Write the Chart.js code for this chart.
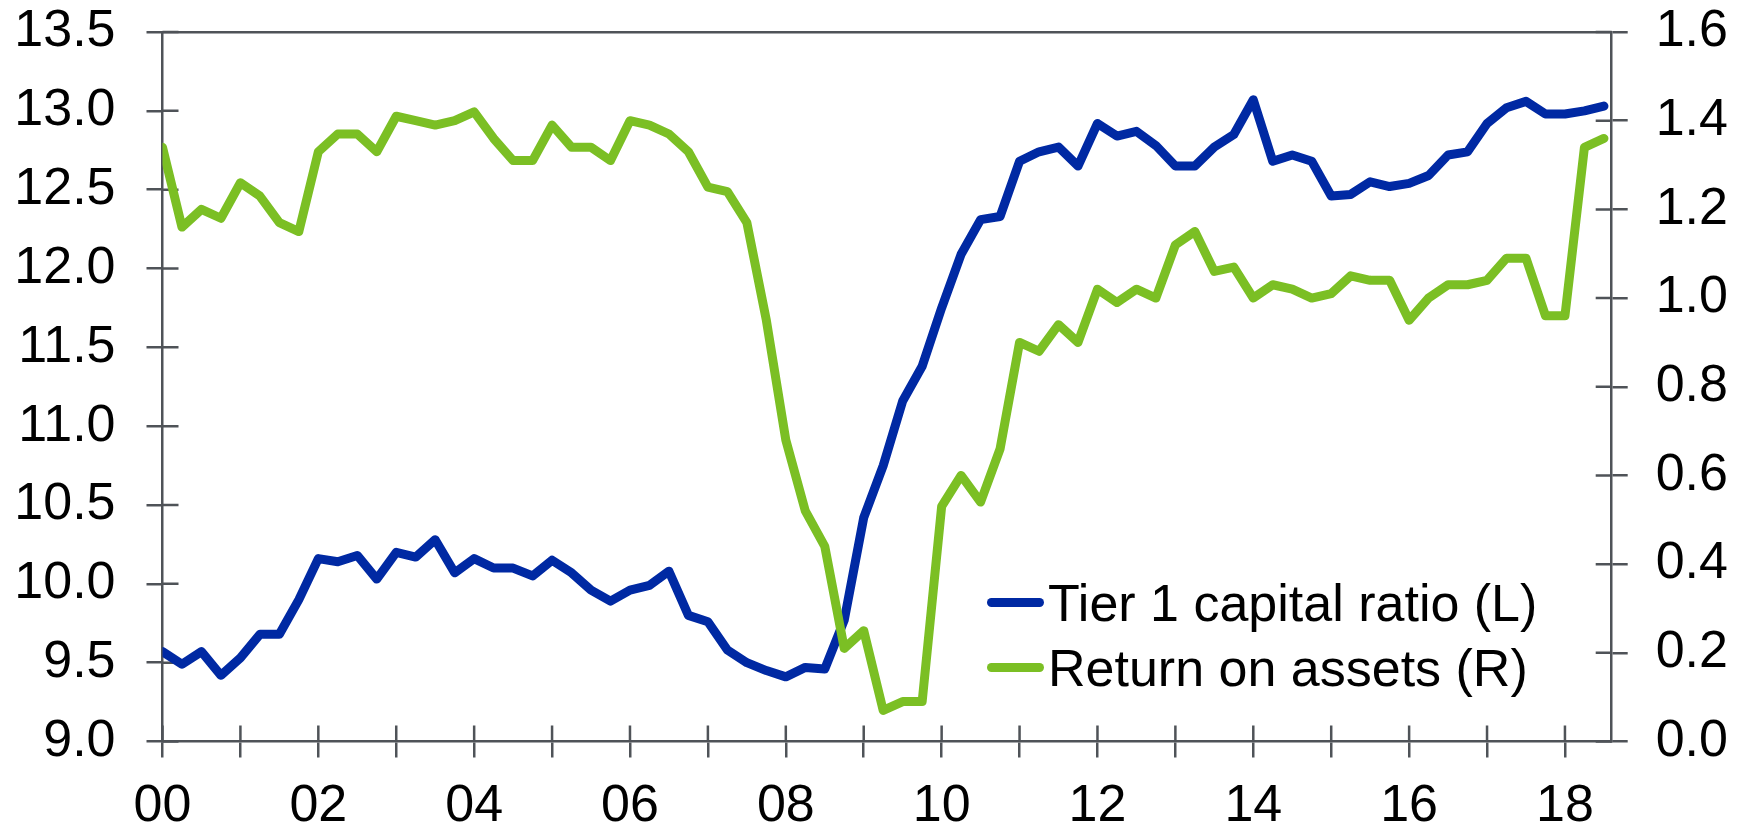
<!DOCTYPE html>
<html><head><meta charset="utf-8">
<script src="https://cdn.jsdelivr.net/npm/chart.js@4"></script>
<style>
html,body{margin:0;padding:0;background:#fff;}
#wrap{position:relative;width:1750px;height:826px;}
canvas{display:block;}
#legend{position:absolute;left:987px;top:570px;font-family:"Liberation Sans",Arial,sans-serif;font-size:52px;color:#000;}
.row{display:flex;align-items:center;height:65px;white-space:nowrap;}
.swatch{width:57px;height:9px;border-radius:4.5px;margin-right:4px;}
</style></head>
<body><div id="wrap"><canvas id="c" width="1750" height="826"></canvas><div id="legend"></div></div>
<script>
// Quarterly periods 2000Q1 .. 2018Q3
const quarters = [];
for (let y = 2000; y <= 2018; y++) for (let q = 1; q <= 4; q++) { if (y === 2018 && q > 3) break; quarters.push(y + 'Q' + q); }

const tier1CapitalRatio = [
  9.57, 9.49, 9.57, 9.42,
  9.53, 9.68, 9.68, 9.90,
  10.16, 10.14, 10.18, 10.03,
  10.20, 10.17, 10.28, 10.07,
  10.16, 10.10, 10.10, 10.05,
  10.15, 10.07, 9.96, 9.89,
  9.96, 9.99, 10.08, 9.80,
  9.76, 9.58, 9.50, 9.45,
  9.41, 9.47, 9.46, 9.77,
  10.42, 10.75, 11.16, 11.38,
  11.75, 12.09, 12.31, 12.33,
  12.68, 12.74, 12.77, 12.65,
  12.92, 12.84, 12.87, 12.78,
  12.65, 12.65, 12.77, 12.85,
  13.07, 12.68, 12.72, 12.68,
  12.46, 12.47, 12.55, 12.52,
  12.54, 12.59, 12.72, 12.74,
  12.92, 13.02, 13.06, 12.98,
  12.98, 13.00, 13.03
];
const returnOnAssets = [
  1.34, 1.16, 1.20, 1.18,
  1.26, 1.23, 1.17, 1.15,
  1.33, 1.37, 1.37, 1.33,
  1.41, 1.40, 1.39, 1.40,
  1.42, 1.36, 1.31, 1.31,
  1.39, 1.34, 1.34, 1.31,
  1.40, 1.39, 1.37, 1.33,
  1.25, 1.24, 1.17, 0.95,
  0.68, 0.52, 0.44, 0.21,
  0.25, 0.07, 0.09, 0.09,
  0.53, 0.60, 0.54, 0.66,
  0.90, 0.88, 0.94, 0.90,
  1.02, 0.99, 1.02, 1.00,
  1.12, 1.15, 1.06, 1.07,
  1.00, 1.03, 1.02, 1.00,
  1.01, 1.05, 1.04, 1.04,
  0.95, 1.00, 1.03, 1.03,
  1.04, 1.09, 1.09, 0.96,
  0.96, 1.34, 1.36
];
const xTickYears = [0,1,2,3,4,5,6,7,8,9,10,11,12,13,14,15,16,17,18];
const leftTicks = [9.0, 9.5, 10.0, 10.5, 11.0, 11.5, 12.0, 12.5, 13.0, 13.5];
const rightTicks = [0.0, 0.2, 0.4, 0.6, 0.8, 1.0, 1.2, 1.4, 1.6];
const seriesLabels = ['Tier 1 capital ratio (L)', 'Return on assets (R)'];
const seriesColors = ['#0029A3', '#7BBF24'];

function qToX(label) { const y = parseInt(label.slice(0,4)); const q = parseInt(label.slice(5)); return (y - 2000) + (q - 1) / 4; }
const axisColor = '#4F5358';
const FONT = {family: '"Liberation Sans", Arial, sans-serif', size: 52};

const innerTicks = {
  id: 'innerTicks',
  beforeDatasetsDraw(chart) {
    const ctx = chart.ctx, a = chart.chartArea, L = 16;
    ctx.save(); ctx.strokeStyle = axisColor; ctx.lineWidth = 2.5;
    ctx.beginPath();
    chart.scales.x.ticks.forEach(t => { const px = chart.scales.x.getPixelForValue(t.value); ctx.moveTo(px, a.bottom); ctx.lineTo(px, a.bottom - L); });
    chart.scales.y.ticks.forEach(t => { const py = chart.scales.y.getPixelForValue(t.value); ctx.moveTo(a.left, py); ctx.lineTo(a.left + L, py); });
    chart.scales.y1.ticks.forEach(t => { const py = chart.scales.y1.getPixelForValue(t.value); ctx.moveTo(a.right, py); ctx.lineTo(a.right - L, py); });
    ctx.stroke(); ctx.restore();
  }
};

function noPad(s) { s.paddingTop = 0; s.paddingBottom = 0; s.paddingLeft = 0; s.paddingRight = 0; }

new Chart(document.getElementById('c'), {
  type: 'line',
  data: {
    datasets: [
      { label: seriesLabels[0], data: quarters.map((q,i)=>({x:qToX(q), y:tier1CapitalRatio[i]})), yAxisID: 'y', borderColor: seriesColors[0], borderWidth: 9, pointRadius: 0, tension: 0, order: 1, borderJoinStyle: 'round', borderCapStyle: 'round' },
      { label: seriesLabels[1], data: quarters.map((q,i)=>({x:qToX(q), y:returnOnAssets[i]})), yAxisID: 'y1', borderColor: seriesColors[1], borderWidth: 9, pointRadius: 0, tension: 0, order: 0, borderJoinStyle: 'round', borderCapStyle: 'round' }
    ]
  },
  options: {
    responsive: false, animation: false, devicePixelRatio: 1,
    layout: { padding: { top: 32, left: 0, right: 0, bottom: 0 } },
    plugins: { legend: { display: false }, tooltip: { enabled: false } },
    scales: {
      x: {
        type: 'linear', position: 'bottom', min: 0, max: 18.6,
        afterBuildTicks: s => { s.ticks = xTickYears.map(v => ({value: v})); },
        afterFit: s => { s.height = 84.5; noPad(s); },
        ticks: { autoSkip: false, maxRotation: 0, color: '#000', font: FONT, padding: 18,
          callback: v => (v % 2 === 0 ? String(v).padStart(2, '0') : '') },
        grid: { drawOnChartArea: false, drawTicks: true, tickLength: 16, color: axisColor, lineWidth: 2.5 },
        border: { display: true, color: axisColor, width: 2.5 }
      },
      xTop: {
        type: 'linear', position: 'top', min: 0, max: 18.6,
        afterFit: s => { s.height = 0; noPad(s); },
        ticks: { display: false },
        grid: { display: false, drawTicks: false },
        border: { display: true, color: axisColor, width: 2.5 }
      },
      y: {
        type: 'linear', position: 'left', min: 9, max: 13.5,
        afterBuildTicks: s => { s.ticks = leftTicks.map(v => ({value: v})); },
        afterFit: s => { s.width = 162.5; noPad(s); },
        ticks: { color: '#000', font: FONT, padding: 31, callback: v => Number(v).toFixed(1) },
        grid: { drawOnChartArea: false, drawTicks: true, tickLength: 16, color: axisColor, lineWidth: 2.5 },
        border: { display: true, color: axisColor, width: 2.5 }
      },
      y1: {
        type: 'linear', position: 'right', min: 0, max: 1.6,
        afterBuildTicks: s => { s.ticks = rightTicks.map(v => ({value: v})); },
        afterFit: s => { s.width = 138.3; noPad(s); },
        ticks: { color: '#000', font: FONT, padding: 28, callback: v => Number(v).toFixed(1) },
        grid: { drawOnChartArea: false, drawTicks: true, tickLength: 16, color: axisColor, lineWidth: 2.5 },
        border: { display: true, color: axisColor, width: 2.5 }
      }
    }
  },
  plugins: [innerTicks]
});

const legend = document.getElementById('legend');
seriesLabels.forEach((lab, i) => {
  const row = document.createElement('div'); row.className = 'row';
  const sw = document.createElement('span'); sw.className = 'swatch'; sw.style.background = seriesColors[i];
  const tx = document.createElement('span'); tx.textContent = lab;
  row.appendChild(sw); row.appendChild(tx); legend.appendChild(row);
});
</script>
</body></html>
